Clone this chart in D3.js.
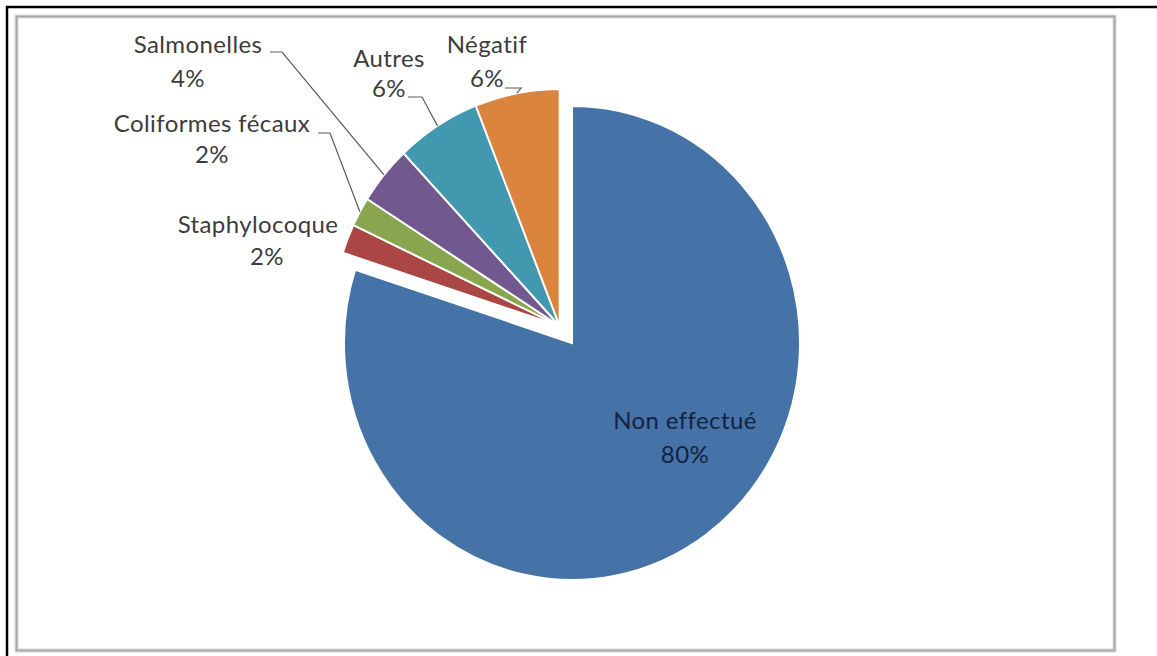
<!DOCTYPE html>
<html><head><meta charset="utf-8">
<script src="https://cdn.jsdelivr.net/npm/d3@7"></script>
<style>
body{margin:0;background:#fff}
svg{display:block}
text{font-family:Lato,"Open Sans",sans-serif;font-variant-ligatures:none;letter-spacing:0.4px}
</style>
</head><body>
<svg id="chart" width="1157" height="656"></svg>
<script>
// Résultats des analyses bactériologiques
const categories = ["Non effectué", "Staphylocoque", "Coliformes fécaux", "Salmonelles", "Autres", "Négatif"];
const values = [80, 2, 2, 4, 6, 6];
const pctLabels = ["80%", "2%", "2%", "4%", "6%", "6%"];
const colors = ["#4572A7", "#AA4643", "#89A54E", "#71588F", "#4198AF", "#DB843D"];

// Label placement: [x1, y1, x2, y2] for the name line and the percent line
const labelPos = {
  "Non effectué":      [685, 429, 685, 463],
  "Staphylocoque":     [258, 233, 267, 265],
  "Coliformes fécaux": [212, 132, 212, 163],
  "Salmonelles":       [198, 53, 188, 87],
  "Autres":            [389, 67, 389, 97],
  "Négatif":           [487, 53, 487, 87]
};
// Leader lines: horizontal tick start/end, then down to the slice edge
const leaderTicks = {
  "Coliformes fécaux": [318, 330, 133],
  "Salmonelles":       [270, 282, 52],
  "Autres":            [408, 422, 97],
  "Négatif":           [505, 521, 88]
};

const W = 1157, H = 656;
const svg = d3.select("#chart");

// frame
svg.append("rect").attr("width", W).attr("height", H).attr("fill", "#fff");
svg.append("path").attr("d", `M7,${H} V7 H${W}`).attr("fill", "none")
  .attr("stroke", "#000").attr("stroke-width", 2.5);
svg.append("rect").attr("x", 16.5).attr("y", 16.5).attr("width", 1098).attr("height", 634)
  .attr("fill", "none").attr("stroke", "#d4d4d4").attr("stroke-width", 4);
svg.append("rect").attr("x", 16.5).attr("y", 16.5).attr("width", 1098).attr("height", 634)
  .attr("fill", "none").attr("stroke", "#a6a6a6").attr("stroke-width", 1.6);

// pie geometry
const cx = 572, cy = 343, R = 237, sx = 228 / 237;
const explode = 21;

const data = categories.map((c, i) => ({ name: c, value: values[i], pct: pctLabels[i], color: colors[i], exploded: i > 0 }));
const pie = d3.pie().value(d => d.value).sort(null);
const arcs = pie(data);
const arc = d3.arc().innerRadius(0).outerRadius(R);

// the detached group moves along the bisector of its combined angle
const detached = arcs.filter(a => a.data.exploded);
const midAll = (detached[0].startAngle + detached[detached.length - 1].endAngle) / 2;
const ox = Math.sin(midAll) * explode, oy = -Math.cos(midAll) * explode;

function origin(a) {
  return a.data.exploded ? [cx + ox, cy + oy] : [cx, cy];
}

svg.append("g").selectAll("path").data(arcs).join("path")
  .attr("transform", a => { const o = origin(a); return `translate(${o[0]},${o[1]}) scale(${sx},1)`; })
  .attr("d", arc)
  .attr("fill", a => a.data.color)
  .attr("stroke", "#fff")
  .attr("stroke-width", 2);

// leader lines
const leaders = svg.append("g");
arcs.forEach(a => {
  const t = leaderTicks[a.data.name];
  if (!t) return;
  const o = origin(a);
  const mid = (a.startAngle + a.endAngle) / 2;
  const ex = o[0] + Math.sin(mid) * R * sx, ey = o[1] - Math.cos(mid) * R;
  leaders.append("path")
    .attr("d", `M${t[0]},${t[2]} H${t[1]} L${ex},${ey}`)
    .attr("fill", "none").attr("stroke", "#5a5a5a").attr("stroke-width", 1.2);
});

// labels
const labels = svg.append("g").attr("text-anchor", "middle").attr("font-size", 24);
arcs.forEach(a => {
  const p = labelPos[a.data.name];
  const fill = a.data.exploded ? "#3c3c3c" : "#13233f";
  labels.append("text").attr("x", p[0]).attr("y", p[1]).attr("fill", fill).text(a.data.name);
  labels.append("text").attr("x", p[2]).attr("y", p[3]).attr("fill", fill).text(a.data.pct);
});
</script>
</body></html>
